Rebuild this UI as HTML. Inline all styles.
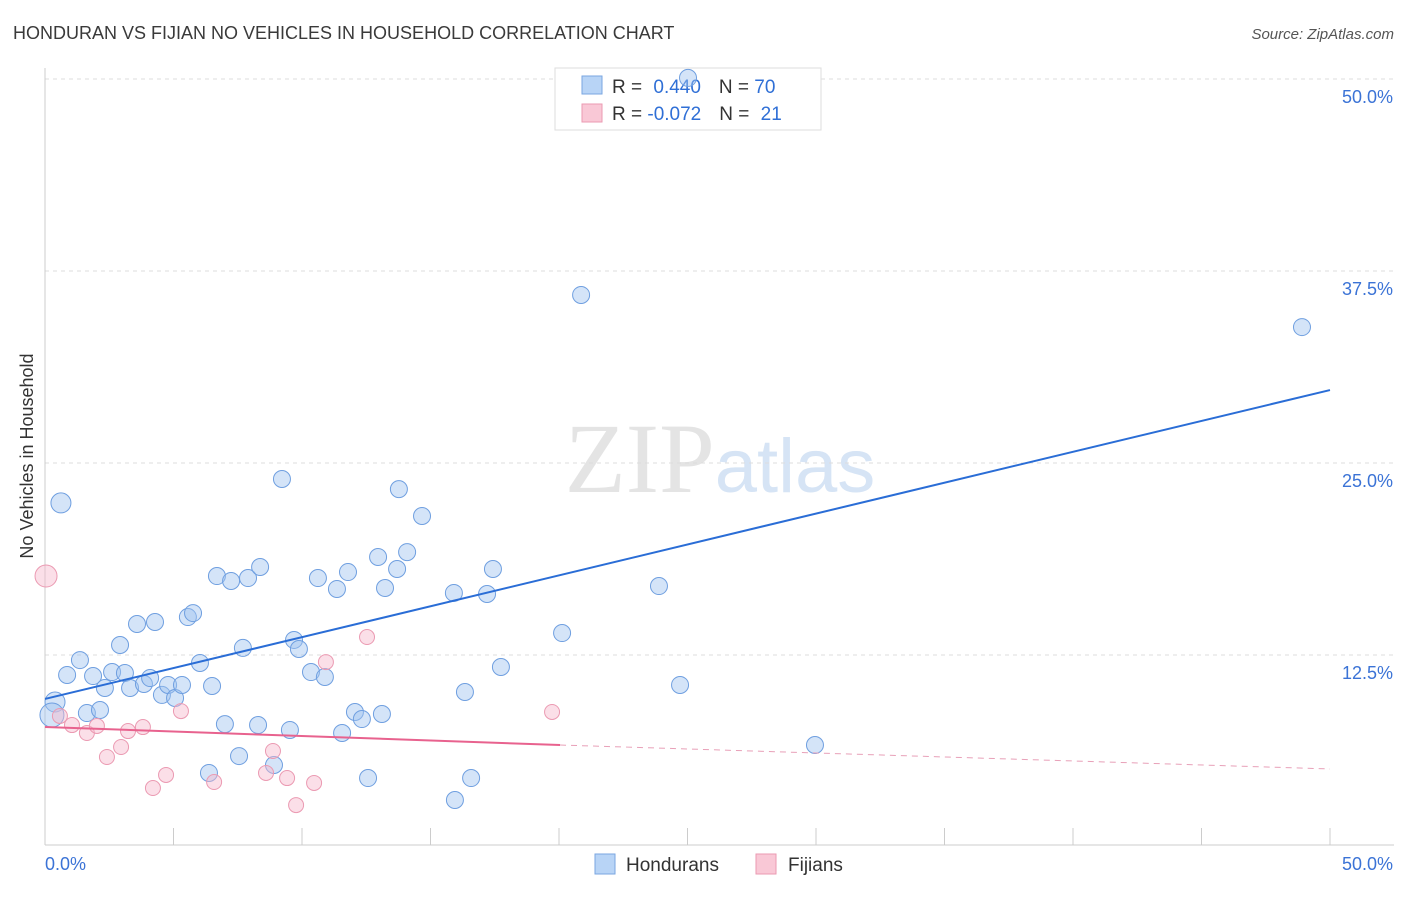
<!DOCTYPE html>
<html><head><meta charset="utf-8"><style>
body{margin:0;background:#fff;font-family:"Liberation Sans",sans-serif;}
svg text{font-family:"Liberation Sans",sans-serif;}
</style></head><body>
<svg id="c" width="1406" height="892">
<text x="13" y="39" font-size="18" fill="#3a3a3a">HONDURAN VS FIJIAN NO VEHICLES IN HOUSEHOLD CORRELATION CHART</text>
<text x="1394" y="39" font-size="15" fill="#555" font-style="italic" text-anchor="end">Source: ZipAtlas.com</text>
<text x="720" y="492" font-size="100" fill="#e4e4e4" text-anchor="middle"><tspan font-family="Liberation Serif">ZIP</tspan><tspan fill="#d6e4f5" font-family="Liberation Sans" font-size="76">atlas</tspan></text>
<text transform="translate(33,456) rotate(-90)" font-size="18" fill="#333" text-anchor="middle">No Vehicles in Household</text>
<g id="grid"></g><g id="axes"></g><g id="marks"></g>
<g>
<rect x="555" y="68" width="266" height="62" fill="#fff" stroke="#ddd"/>
<rect x="582" y="76" width="20" height="18" fill="#b8d4f6" stroke="#7aa6e0"/>
<rect x="582" y="104" width="20" height="18" fill="#f9c8d6" stroke="#eb9ab2"/>
<text x="612" y="93" font-size="19" fill="#333">R = <tspan fill="#2f6fd6" dx="6">0.440</tspan><tspan dx="18" fill="#333">N = </tspan><tspan fill="#2f6fd6">70</tspan></text>
<text x="612" y="120" font-size="19" fill="#333">R = <tspan fill="#2f6fd6">-0.072</tspan><tspan dx="18" fill="#333">N = </tspan><tspan fill="#2f6fd6" dx="6">21</tspan></text>
</g>
<g id="top"></g>
<g>
<rect x="595" y="854" width="20" height="20" fill="#b8d4f6" stroke="#7aa6e0"/>
<text x="626" y="871" font-size="19" fill="#333">Hondurans</text>
<rect x="756" y="854" width="20" height="20" fill="#f9c8d6" stroke="#eb9ab2"/>
<text x="788" y="871" font-size="19" fill="#333">Fijians</text>
</g>
</svg>
<script>
const yTicks=[12.5,25,37.5,50];
const yTickLabels=["12.5%","25.0%","37.5%","50.0%"];
const xTicks=[0,5,10,15,20,25,30,35,40,45,50];
const blueX=[0.39,0.62,0.27,0.86,1.36,1.87,1.63,2.14,2.33,2.61,2.92,3.11,3.31,3.58,3.85,4.09,4.28,4.55,4.79,5.06,5.33,5.56,5.76,6.03,6.38,6.5,6.69,7.0,7.24,7.55,7.7,7.9,8.29,8.37,8.91,9.22,9.53,9.69,9.88,10.35,10.62,10.89,11.36,11.56,11.79,12.06,12.33,12.57,12.96,13.11,13.23,13.7,13.77,14.09,14.67,15.91,15.95,16.34,16.58,17.2,17.43,17.74,20.12,20.86,23.89,24.71,29.96,48.91,25.02];
const blueY=[9.44,22.4,8.59,11.2,12.17,11.13,8.72,8.92,10.35,11.39,13.15,11.33,10.35,14.52,10.61,11.0,14.65,9.9,10.55,9.7,10.55,14.97,15.23,11.98,4.82,10.48,17.64,8.0,17.32,5.92,12.96,17.51,7.94,18.23,5.34,23.96,7.62,13.48,12.89,11.39,17.51,11.07,16.8,7.42,17.9,8.79,8.33,4.49,18.88,8.66,16.86,18.1,23.3,19.2,21.55,16.54,3.06,10.09,4.49,16.47,18.1,11.72,13.93,35.94,16.99,10.55,6.64,33.85,50.07];
const pinkX=[0.04,0.58,1.05,1.63,2.02,2.41,2.96,3.23,3.81,4.2,4.71,5.29,6.58,8.6,8.87,9.42,9.77,10.47,10.93,12.53,19.73];
const pinkY=[17.64,8.53,7.94,7.42,7.88,5.86,6.51,7.55,7.81,3.84,4.69,8.85,4.23,4.82,6.25,4.49,2.73,4.17,12.04,13.67,8.79];
const blueTrendX=[0,50], blueTrendY=[9.64,29.75];
const pinkTrendX=[0,20.04,50], pinkTrendY=[7.81,6.64,5.08];
const NS="http://www.w3.org/2000/svg";
const X=v=>45+v*25.7, Y=v=>847-v*15.36;
function mk(t,a,p){const e=document.createElementNS(NS,t);for(const k in a)e.setAttribute(k,a[k]);p.appendChild(e);return e;}
const grid=document.getElementById('grid'),axes=document.getElementById('axes'),marks=document.getElementById('marks'),topG=document.getElementById('top');
yTicks.forEach((v,i)=>{
 const l=mk('line',{x1:45,x2:1394,y1:Y(v),y2:Y(v),stroke:'#ddd','stroke-dasharray':'4,4'},grid);
 
 
 const t=mk('text',{x:1393,y:Y(v)+24,'font-size':18,fill:'#3b73d6','text-anchor':'end'},grid);t.textContent=yTickLabels[i];
 
 
});
let ax=mk('line',{x1:45,x2:45,y1:68,y2:845,stroke:'#ccc'},axes);


ax=mk('line',{x1:45,x2:1394,y1:845,y2:845,stroke:'#ccc'},axes);


xTicks.forEach(v=>{const l=mk('line',{x1:X(v),x2:X(v),y1:828,y2:845,stroke:'#ccc'},axes);
 
 });
let t=mk('text',{x:45,y:870,'font-size':18,fill:'#3b73d6'},axes);t.textContent='0.0%';


t=mk('text',{x:1393,y:870,'font-size':18,fill:'#3b73d6','text-anchor':'end'},axes);t.textContent='50.0%';


const bigB=[0,1,2], bigP=[0];
blueX.forEach((v,i)=>{const parent=blueY[i]>45?topG:marks;
 const c=mk('circle',{cx:X(v),cy:Y(blueY[i]),r:bigB.includes(i)?(i==2?12:10):8.5,fill:'rgba(160,196,240,0.45)',stroke:'#6f9fe0','stroke-width':1},parent);
 
 });
pinkX.forEach((v,i)=>{const c=mk('circle',{cx:X(v),cy:Y(pinkY[i]),r:bigP.includes(i)?11:7.5,fill:'rgba(247,185,205,0.45)',stroke:'#eb9ab2','stroke-width':1},marks);
 
 });
let l=mk('line',{x1:X(blueTrendX[0]),y1:Y(blueTrendY[0]),x2:X(blueTrendX[1]),y2:Y(blueTrendY[1]),stroke:'#2a6dd6','stroke-width':2},marks);


l=mk('line',{x1:X(pinkTrendX[0]),y1:Y(pinkTrendY[0]),x2:X(pinkTrendX[1]),y2:Y(pinkTrendY[1]),stroke:'#e8628e','stroke-width':2},marks);


l=mk('line',{x1:X(pinkTrendX[1]),y1:Y(pinkTrendY[1]),x2:X(pinkTrendX[2]),y2:Y(pinkTrendY[2]),stroke:'#e8a0b8','stroke-width':1,'stroke-dasharray':'6,5'},marks);


</script>
</body></html>
